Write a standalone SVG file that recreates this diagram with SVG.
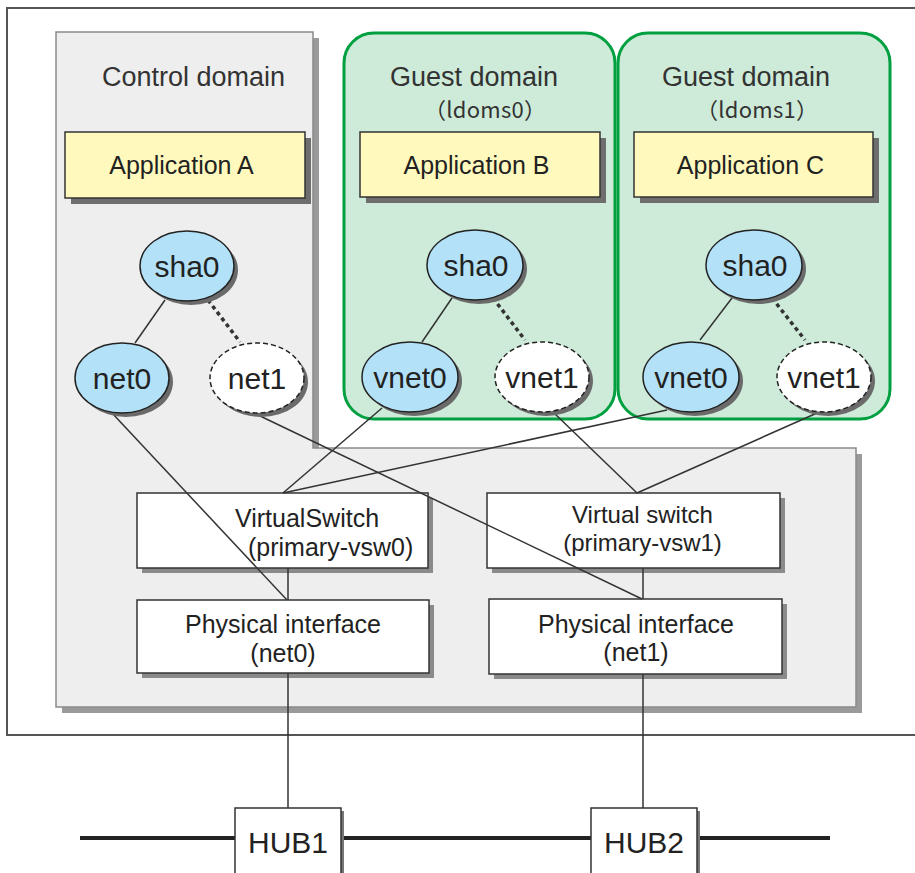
<svg xmlns="http://www.w3.org/2000/svg" width="915" height="873" viewBox="0 0 915 873">
<style>
text{font-family:"Liberation Sans",Arial,sans-serif;fill:#222}
.title{font-size:27px;fill:#333;text-anchor:middle}
.cjk{font-family:"Noto Sans CJK JP","Liberation Sans",sans-serif;font-size:22px;fill:#333;text-anchor:middle}
.app{fill:#fff9bd;stroke:#333;stroke-width:1.5}
.appsh{fill:#6e6e6e}
.apptx{font-size:25px;text-anchor:middle}
.box{fill:#fff;stroke:#333;stroke-width:1.5}
.boxsh{fill:#8a8a8a}
.bt{font-size:25px}
.bt24{font-size:24px}
.mid{text-anchor:middle}
.ell{fill:#b3e1f7;stroke:#222;stroke-width:1.5}
.ellw{fill:#fff;stroke:#222;stroke-width:1.5;stroke-dasharray:5 3}
.ellsh{fill:#6a6a6a}
.et{font-size:30px;text-anchor:middle}
.guest{fill:#cdebd8;stroke:#00a040;stroke-width:3}
.ln{stroke:#333;stroke-width:1.5;fill:none}
.dot{stroke:#333;stroke-width:3.5;stroke-dasharray:4 3.5;fill:none}
.hub{stroke:#222;stroke-width:4}
</style>

<g id="outer">
<rect x="7" y="8" width="920" height="727" fill="#fff" stroke="#555" stroke-width="2"/>
</g>

<g id="control-domain">
<polygon points="62,38 319,38 319,454 862,454 862,713 62,713" fill="#9a9a9a"/>
<polygon points="56,32 313,32 313,448 856,448 856,707 56,707" fill="#eeeeee" stroke="#8a8a8a" stroke-width="1.5"/>
<text class="title" x="193.5" y="86">Control domain</text>
</g>

<g id="guest-domain-0">
<rect class="guest" x="344" y="33" width="271" height="386" rx="30"/>
<text class="title" x="474" y="86">Guest domain</text>
<text class="cjk" x="485" y="118" textLength="122" lengthAdjust="spacing">（ldoms0）</text>
</g>

<g id="guest-domain-1">
<rect class="guest" x="618" y="33" width="272" height="386" rx="30"/>
<text class="title" x="746" y="86">Guest domain</text>
<text class="cjk" x="757" y="118" textLength="122" lengthAdjust="spacing">（ldoms1）</text>
</g>

<g id="app-a">
<rect class="appsh" x="71" y="138" width="240" height="66"/>
<rect class="app" x="65" y="132" width="240" height="66"/>
<text class="apptx" x="181.5" y="174">Application A</text>
</g>
<g id="app-b">
<rect class="appsh" x="366" y="138" width="240" height="65"/>
<rect class="app" x="360" y="132" width="240" height="65"/>
<text class="apptx" x="476.5" y="174">Application B</text>
</g>
<g id="app-c">
<rect class="appsh" x="640" y="138" width="239" height="65"/>
<rect class="app" x="634" y="132" width="239" height="65"/>
<text class="apptx" x="750.5" y="174">Application C</text>
</g>

<g id="vsw0">
<rect class="boxsh" x="142" y="498" width="291" height="75"/>
<rect class="box" x="137" y="493" width="291" height="75"/>
<text class="bt" x="235" y="527">VirtualSwitch</text>
<text class="bt" x="248" y="556">(primary-vsw0)</text>
</g>
<g id="vsw1">
<rect class="boxsh" x="492" y="498" width="293" height="75"/>
<rect class="box" x="487" y="493" width="293" height="75"/>
<text class="bt24 mid" x="642.5" y="523">Virtual switch</text>
<text class="bt24 mid" x="642.5" y="551">(primary-vsw1)</text>
</g>
<g id="phys0">
<rect class="boxsh" x="142" y="605" width="292" height="73"/>
<rect class="box" x="137" y="600" width="292" height="73"/>
<text class="bt mid" x="283" y="633">Physical interface</text>
<text class="bt mid" x="283" y="662">(net0)</text>
</g>
<g id="phys1">
<rect class="boxsh" x="494" y="604" width="293" height="75"/>
<rect class="box" x="489" y="599" width="293" height="75"/>
<text class="bt mid" x="636" y="633">Physical interface</text>
<text class="bt mid" x="636" y="661">(net1)</text>
</g>

<g id="connectors">
<line class="ln" x1="165" y1="300" x2="135" y2="343"/>
<line class="dot" x1="208" y1="300" x2="240" y2="342"/>
<line class="ln" x1="452" y1="298" x2="422" y2="342"/>
<line class="dot" x1="493" y1="298" x2="525" y2="340"/>
<line class="ln" x1="732" y1="298" x2="700" y2="340"/>
<line class="dot" x1="772" y1="298" x2="805" y2="340"/>
<line class="ln" x1="112" y1="413" x2="287" y2="600"/>
<line class="ln" x1="258" y1="415" x2="642" y2="599"/>
<line class="ln" x1="382" y1="408" x2="283" y2="493"/>
<line class="ln" x1="667" y1="410" x2="283" y2="493"/>
<line class="ln" x1="553" y1="412" x2="637" y2="493"/>
<line class="ln" x1="817" y1="413" x2="637" y2="493"/>
<line class="ln" x1="288" y1="568" x2="288" y2="600"/>
<line class="ln" x1="643" y1="568" x2="643" y2="599"/>
<line class="ln" x1="288" y1="673" x2="288" y2="808"/>
<line class="ln" x1="643" y1="674" x2="643" y2="808"/>
<line class="hub" x1="80" y1="838" x2="830" y2="838"/>
</g>

<g id="ctl-sha0">
<ellipse class="ellsh" cx="191" cy="270" rx="47" ry="35"/>
<ellipse class="ell" cx="187" cy="266" rx="47" ry="35"/>
<text class="et" x="187" y="277">sha0</text>
</g>
<g id="ctl-net0">
<ellipse class="ellsh" cx="126" cy="382" rx="47" ry="35"/>
<ellipse class="ell" cx="122" cy="378" rx="47" ry="35"/>
<text class="et" x="122" y="389">net0</text>
</g>
<g id="ctl-net1">
<ellipse class="ellsh" cx="261" cy="382" rx="47" ry="35"/>
<ellipse class="ellw" cx="257" cy="378" rx="47" ry="35"/>
<text class="et" x="257" y="389">net1</text>
</g>

<g id="g0-sha0">
<ellipse class="ellsh" cx="479" cy="269" rx="48" ry="35"/>
<ellipse class="ell" cx="475" cy="265" rx="48" ry="35"/>
<text class="et" x="476" y="276">sha0</text>
</g>
<g id="g0-vnet0">
<ellipse class="ellsh" cx="414" cy="381" rx="48" ry="35"/>
<ellipse class="ell" cx="410" cy="377" rx="48" ry="35"/>
<text class="et" x="410" y="388">vnet0</text>
</g>
<g id="g0-vnet1">
<ellipse class="ellsh" cx="546" cy="381" rx="47" ry="35"/>
<ellipse class="ellw" cx="542" cy="377" rx="47" ry="35"/>
<text class="et" x="542" y="388">vnet1</text>
</g>

<g id="g1-sha0">
<ellipse class="ellsh" cx="758" cy="269" rx="48" ry="35"/>
<ellipse class="ell" cx="754" cy="265" rx="48" ry="35"/>
<text class="et" x="755" y="276">sha0</text>
</g>
<g id="g1-vnet0">
<ellipse class="ellsh" cx="695" cy="381" rx="48" ry="35"/>
<ellipse class="ell" cx="691" cy="377" rx="48" ry="35"/>
<text class="et" x="691" y="388">vnet0</text>
</g>
<g id="g1-vnet1">
<ellipse class="ellsh" cx="828" cy="381" rx="47" ry="35"/>
<ellipse class="ellw" cx="824" cy="377" rx="47" ry="35"/>
<text class="et" x="824" y="388">vnet1</text>
</g>

<g id="hub1">
<rect x="238" y="811" width="106" height="70" fill="#777"/>
<rect class="box" x="235" y="808" width="106" height="70"/>
<text x="288" y="853" font-size="30" text-anchor="middle">HUB1</text>
</g>
<g id="hub2">
<rect x="594" y="811" width="106" height="70" fill="#777"/>
<rect class="box" x="591" y="808" width="106" height="70"/>
<text x="644" y="853" font-size="30" text-anchor="middle">HUB2</text>
</g>
</svg>
